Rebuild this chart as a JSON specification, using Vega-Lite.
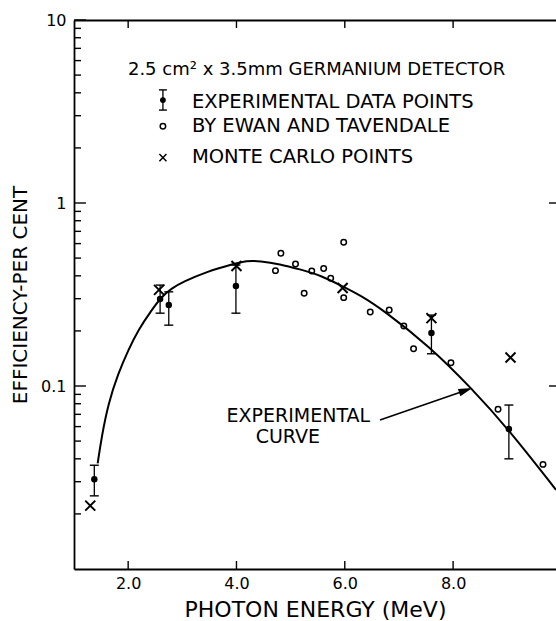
{
  "$schema": "https://vega.github.io/schema/vega-lite/v6.json",
  "width": 482,
  "height": 549,
  "autosize": {"type": "none"},
  "padding": {"left": 74, "top": 20, "right": 0, "bottom": 52},
  "background": "white",
  "config": {
    "view": {"stroke": null},
    "font": "DejaVu Sans",
    "axis": {
      "grid": false,
      "ticks": false,
      "tickSize": 0,
      "domainColor": "black",
      "domainWidth": 1.8,
      "labelColor": "black",
      "titleColor": "black",
      "labelFont": "DejaVu Sans",
      "titleFont": "DejaVu Sans",
      "titleFontWeight": "normal"
    },
    "tick": {"color": "black", "opacity": 1, "thickness": 1.4},
    "rule": {"color": "black", "strokeWidth": 1.4}
  },
  "datasets": {
    "curve": [
      {"e": 1.437, "eff": 0.0378}, {"e": 1.511, "eff": 0.0528}, {"e": 1.633, "eff": 0.0804},
      {"e": 1.817, "eff": 0.1173}, {"e": 2.002, "eff": 0.1573}, {"e": 2.186, "eff": 0.2023},
      {"e": 2.434, "eff": 0.2601}, {"e": 2.618, "eff": 0.3076}, {"e": 2.803, "eff": 0.342},
      {"e": 3.017, "eff": 0.3715}, {"e": 3.448, "eff": 0.4214}, {"e": 3.939, "eff": 0.464},
      {"e": 4.186, "eff": 0.484}, {"e": 4.432, "eff": 0.482}, {"e": 4.8, "eff": 0.464},
      {"e": 5.17, "eff": 0.434}, {"e": 5.54, "eff": 0.404}, {"e": 5.97, "eff": 0.349},
      {"e": 6.28, "eff": 0.314}, {"e": 6.71, "eff": 0.26}, {"e": 7.57, "eff": 0.164},
      {"e": 8.34, "eff": 0.0971}, {"e": 9.02, "eff": 0.0582}, {"e": 9.9, "eff": 0.0271}
    ],
    "measured": [
      {"e": 1.375, "eff": 0.0309, "lo": 0.0251, "hi": 0.0369},
      {"e": 2.59, "eff": 0.299, "lo": 0.25, "hi": 0.356},
      {"e": 2.75, "eff": 0.277, "lo": 0.215, "hi": 0.327},
      {"e": 3.99, "eff": 0.352, "lo": 0.25, "hi": 0.458},
      {"e": 7.6, "eff": 0.195, "lo": 0.15, "hi": 0.244},
      {"e": 9.03, "eff": 0.0582, "lo": 0.04, "hi": 0.0787}
    ],
    "ewan": [
      {"e": 4.72, "eff": 0.427}, {"e": 4.82, "eff": 0.531}, {"e": 5.09, "eff": 0.464},
      {"e": 5.25, "eff": 0.321}, {"e": 5.39, "eff": 0.425}, {"e": 5.61, "eff": 0.438},
      {"e": 5.74, "eff": 0.388}, {"e": 5.98, "eff": 0.61}, {"e": 5.98, "eff": 0.304},
      {"e": 6.47, "eff": 0.254}, {"e": 6.82, "eff": 0.26}, {"e": 7.09, "eff": 0.213},
      {"e": 7.27, "eff": 0.16}, {"e": 7.96, "eff": 0.134}, {"e": 8.83, "eff": 0.0746},
      {"e": 9.66, "eff": 0.0373}
    ],
    "monteCarlo": [
      {"e": 1.3, "eff": 0.0222}, {"e": 2.57, "eff": 0.335}, {"e": 4.0, "eff": 0.453},
      {"e": 5.96, "eff": 0.343}, {"e": 7.6, "eff": 0.235}, {"e": 9.06, "eff": 0.143}
    ],
    "energyTicks": [
      {"energy": 2, "base": 0.01, "tip": 0.01106}, {"energy": 4, "base": 0.01, "tip": 0.01106},
      {"energy": 6, "base": 0.01, "tip": 0.01106}, {"energy": 8, "base": 0.01, "tip": 0.01106},
      {"energy": 2, "base": 10, "tip": 9.045}, {"energy": 4, "base": 10, "tip": 9.045},
      {"energy": 6, "base": 10, "tip": 9.045}, {"energy": 8, "base": 10, "tip": 9.045}
    ],
    "levelTicks": [
      {"level": 0.1, "base": 1, "tip": 1.221}, {"level": 1, "base": 1, "tip": 1.221}, {"level": 10, "base": 1, "tip": 1.221},
      {"level": 0.1, "base": 9.9, "tip": 9.771}, {"level": 1, "base": 9.9, "tip": 9.771},
      {"level": 0.02, "base": 1, "tip": 1.129}, {"level": 0.03, "base": 1, "tip": 1.129}, {"level": 0.04, "base": 1, "tip": 1.129},
      {"level": 0.05, "base": 1, "tip": 1.129}, {"level": 0.06, "base": 1, "tip": 1.129}, {"level": 0.07, "base": 1, "tip": 1.129},
      {"level": 0.08, "base": 1, "tip": 1.129}, {"level": 0.09, "base": 1, "tip": 1.129},
      {"level": 0.2, "base": 1, "tip": 1.129}, {"level": 0.3, "base": 1, "tip": 1.129}, {"level": 0.4, "base": 1, "tip": 1.129},
      {"level": 0.5, "base": 1, "tip": 1.129}, {"level": 0.6, "base": 1, "tip": 1.129}, {"level": 0.7, "base": 1, "tip": 1.129},
      {"level": 0.8, "base": 1, "tip": 1.129}, {"level": 0.9, "base": 1, "tip": 1.129},
      {"level": 2, "base": 1, "tip": 1.129}, {"level": 3, "base": 1, "tip": 1.129}, {"level": 4, "base": 1, "tip": 1.129},
      {"level": 5, "base": 1, "tip": 1.129}, {"level": 6, "base": 1, "tip": 1.129}, {"level": 7, "base": 1, "tip": 1.129},
      {"level": 8, "base": 1, "tip": 1.129}, {"level": 9, "base": 1, "tip": 1.129}
    ]
  },
  "layer": [
    {
      "data": {"name": "curve"},
      "mark": {"type": "line", "interpolate": "basis", "color": "black", "strokeWidth": 2},
      "encoding": {
        "x": {
          "field": "e", "type": "quantitative",
          "scale": {"type": "linear", "domain": [1, 9.9], "nice": false, "zero": false},
          "axis": {
            "orient": "bottom", "values": [2, 4, 6, 8], "format": ".1f",
            "labelFontSize": 16, "labelPadding": 6,
            "title": "PHOTON ENERGY (MeV)", "titleFontSize": 22, "titlePadding": 8
          }
        },
        "y": {
          "field": "eff", "type": "quantitative",
          "scale": {"type": "log", "domain": [0.01, 10], "nice": false},
          "axis": {
            "orient": "left", "values": [0.1, 1, 10], "format": "~g",
            "labelFontSize": 16, "labelPadding": 8,
            "title": "EFFICIENCY-PER CENT", "titleFontSize": 20, "titlePadding": 10
          }
        }
      }
    },
    {
      "data": {"name": "ewan"},
      "mark": {"type": "point", "shape": "circle", "filled": false, "color": "black", "opacity": 1, "strokeWidth": 1.5, "size": 30},
      "encoding": {
        "x": {
          "field": "e", "type": "quantitative",
          "scale": {"type": "linear", "domain": [1, 9.9], "nice": false, "zero": false},
          "axis": {"orient": "top", "labels": false, "title": null}
        },
        "y": {
          "field": "eff", "type": "quantitative",
          "scale": {"type": "log", "domain": [0.01, 10], "nice": false},
          "axis": null
        }
      }
    },
    {
      "data": {"name": "energyTicks"},
      "mark": {"type": "rule", "color": "black", "strokeWidth": 1.4},
      "encoding": {
        "x": {"field": "energy", "type": "quantitative", "scale": {"type": "linear", "domain": [1, 9.9], "nice": false, "zero": false}, "axis": null},
        "y": {"field": "base", "type": "quantitative", "scale": {"type": "log", "domain": [0.01, 10], "nice": false}, "axis": null},
        "y2": {"field": "tip"}
      }
    },
    {
      "data": {"name": "levelTicks"},
      "mark": {"type": "rule", "color": "black", "strokeWidth": 1.4},
      "encoding": {
        "x": {"field": "base", "type": "quantitative", "scale": {"type": "linear", "domain": [1, 9.9], "nice": false, "zero": false}, "axis": null},
        "x2": {"field": "tip"},
        "y": {"field": "level", "type": "quantitative", "scale": {"type": "log", "domain": [0.01, 10], "nice": false}, "axis": null}
      }
    },
    {
      "data": {"name": "monteCarlo"},
      "mark": {"type": "point", "shape": "M-1,-1L1,1M-1,1L1,-1", "filled": false, "color": "black", "opacity": 1, "strokeWidth": 2, "size": 100},
      "encoding": {
        "x": {"field": "e", "type": "quantitative", "scale": {"type": "linear", "domain": [1, 9.9], "nice": false, "zero": false}, "axis": null},
        "y": {"field": "eff", "type": "quantitative", "scale": {"type": "log", "domain": [0.01, 10], "nice": false}, "axis": null}
      }
    },
    {
      "data": {"name": "measured"},
      "mark": {"type": "rule", "strokeWidth": 1.3},
      "encoding": {
        "x": {"field": "e", "type": "quantitative", "scale": {"type": "linear", "domain": [1, 9.9], "nice": false, "zero": false}, "axis": null},
        "y": {"field": "lo", "type": "quantitative", "scale": {"type": "log", "domain": [0.01, 10], "nice": false}, "axis": null},
        "y2": {"field": "hi"}
      }
    },
    {
      "data": {"name": "measured"},
      "mark": {"type": "tick", "orient": "horizontal", "size": 9},
      "encoding": {
        "x": {"field": "e", "type": "quantitative", "scale": {"type": "linear", "domain": [1, 9.9], "nice": false, "zero": false}, "axis": null},
        "y": {"field": "lo", "type": "quantitative", "scale": {"type": "log", "domain": [0.01, 10], "nice": false}, "axis": null}
      }
    },
    {
      "data": {"name": "measured"},
      "mark": {"type": "tick", "orient": "horizontal", "size": 9},
      "encoding": {
        "x": {"field": "e", "type": "quantitative", "scale": {"type": "linear", "domain": [1, 9.9], "nice": false, "zero": false}, "axis": null},
        "y": {"field": "hi", "type": "quantitative", "scale": {"type": "log", "domain": [0.01, 10], "nice": false}, "axis": null}
      }
    },
    {
      "data": {"name": "measured"},
      "mark": {"type": "point", "shape": "circle", "filled": true, "color": "black", "opacity": 1, "size": 42},
      "encoding": {
        "x": {"field": "e", "type": "quantitative", "scale": {"type": "linear", "domain": [1, 9.9], "nice": false, "zero": false}, "axis": null},
        "y": {"field": "eff", "type": "quantitative", "scale": {"type": "log", "domain": [0.01, 10], "nice": false}, "axis": null}
      }
    },
    {
      "data": {"values": [{}]},
      "mark": {"type": "text", "align": "left", "baseline": "middle", "fontSize": 18, "color": "black",
               "text": "2.5 cm² x 3.5mm  GERMANIUM DETECTOR"},
      "encoding": {
        "x": {"datum": 1.996, "type": "quantitative", "scale": {"type": "linear", "domain": [1, 9.9], "nice": false, "zero": false}, "axis": null},
        "y": {"datum": 5.33, "type": "quantitative", "scale": {"type": "log", "domain": [0.01, 10], "nice": false}, "axis": null}
      }
    },
    {
      "data": {"values": [{}]},
      "mark": {"type": "text", "align": "left", "baseline": "middle", "fontSize": 19.5, "color": "black",
               "text": "EXPERIMENTAL DATA POINTS"},
      "encoding": {
        "x": {"datum": 3.177, "type": "quantitative", "scale": {"type": "linear", "domain": [1, 9.9], "nice": false, "zero": false}, "axis": null},
        "y": {"datum": 3.56, "type": "quantitative", "scale": {"type": "log", "domain": [0.01, 10], "nice": false}, "axis": null}
      }
    },
    {
      "data": {"values": [{}]},
      "mark": {"type": "text", "align": "left", "baseline": "middle", "fontSize": 19.5, "color": "black",
               "text": "BY EWAN AND TAVENDALE"},
      "encoding": {
        "x": {"datum": 3.177, "type": "quantitative", "scale": {"type": "linear", "domain": [1, 9.9], "nice": false, "zero": false}, "axis": null},
        "y": {"datum": 2.63, "type": "quantitative", "scale": {"type": "log", "domain": [0.01, 10], "nice": false}, "axis": null}
      }
    },
    {
      "data": {"values": [{}]},
      "mark": {"type": "text", "align": "left", "baseline": "middle", "fontSize": 19.5, "color": "black",
               "text": "MONTE CARLO POINTS"},
      "encoding": {
        "x": {"datum": 3.177, "type": "quantitative", "scale": {"type": "linear", "domain": [1, 9.9], "nice": false, "zero": false}, "axis": null},
        "y": {"datum": 1.78, "type": "quantitative", "scale": {"type": "log", "domain": [0.01, 10], "nice": false}, "axis": null}
      }
    },
    {
      "data": {"values": [{}]},
      "mark": {"type": "rule", "strokeWidth": 1.3},
      "encoding": {
        "x": {"datum": 2.642, "type": "quantitative", "scale": {"type": "linear", "domain": [1, 9.9], "nice": false, "zero": false}, "axis": null},
        "y": {"datum": 3.22, "type": "quantitative", "scale": {"type": "log", "domain": [0.01, 10], "nice": false}, "axis": null},
        "y2": {"datum": 4.15}
      }
    },
    {
      "data": {"values": [{}]},
      "mark": {"type": "tick", "orient": "horizontal", "size": 8},
      "encoding": {
        "x": {"datum": 2.642, "type": "quantitative", "scale": {"type": "linear", "domain": [1, 9.9], "nice": false, "zero": false}, "axis": null},
        "y": {"datum": 3.22, "type": "quantitative", "scale": {"type": "log", "domain": [0.01, 10], "nice": false}, "axis": null}
      }
    },
    {
      "data": {"values": [{}]},
      "mark": {"type": "tick", "orient": "horizontal", "size": 8},
      "encoding": {
        "x": {"datum": 2.642, "type": "quantitative", "scale": {"type": "linear", "domain": [1, 9.9], "nice": false, "zero": false}, "axis": null},
        "y": {"datum": 4.15, "type": "quantitative", "scale": {"type": "log", "domain": [0.01, 10], "nice": false}, "axis": null}
      }
    },
    {
      "data": {"values": [{}]},
      "mark": {"type": "point", "shape": "circle", "filled": true, "color": "black", "opacity": 1, "size": 34},
      "encoding": {
        "x": {"datum": 2.642, "type": "quantitative", "scale": {"type": "linear", "domain": [1, 9.9], "nice": false, "zero": false}, "axis": null},
        "y": {"datum": 3.65, "type": "quantitative", "scale": {"type": "log", "domain": [0.01, 10], "nice": false}, "axis": null}
      }
    },
    {
      "data": {"values": [{}]},
      "mark": {"type": "point", "shape": "circle", "filled": false, "color": "black", "opacity": 1, "strokeWidth": 1.5, "size": 30},
      "encoding": {
        "x": {"datum": 2.642, "type": "quantitative", "scale": {"type": "linear", "domain": [1, 9.9], "nice": false, "zero": false}, "axis": null},
        "y": {"datum": 2.63, "type": "quantitative", "scale": {"type": "log", "domain": [0.01, 10], "nice": false}, "axis": null}
      }
    },
    {
      "data": {"values": [{}]},
      "mark": {"type": "point", "shape": "M-1,-1L1,1M-1,1L1,-1", "filled": false, "color": "black", "opacity": 1, "strokeWidth": 1.5, "size": 50},
      "encoding": {
        "x": {"datum": 2.642, "type": "quantitative", "scale": {"type": "linear", "domain": [1, 9.9], "nice": false, "zero": false}, "axis": null},
        "y": {"datum": 1.77, "type": "quantitative", "scale": {"type": "log", "domain": [0.01, 10], "nice": false}, "axis": null}
      }
    },
    {
      "data": {"values": [{}]},
      "mark": {"type": "text", "align": "center", "baseline": "middle", "fontSize": 19, "color": "black", "text": "EXPERIMENTAL"},
      "encoding": {
        "x": {"datum": 5.142, "type": "quantitative", "scale": {"type": "linear", "domain": [1, 9.9], "nice": false, "zero": false}, "axis": null},
        "y": {"datum": 0.0686, "type": "quantitative", "scale": {"type": "log", "domain": [0.01, 10], "nice": false}, "axis": null}
      }
    },
    {
      "data": {"values": [{}]},
      "mark": {"type": "text", "align": "center", "baseline": "middle", "fontSize": 19, "color": "black", "text": "CURVE"},
      "encoding": {
        "x": {"datum": 4.948, "type": "quantitative", "scale": {"type": "linear", "domain": [1, 9.9], "nice": false, "zero": false}, "axis": null},
        "y": {"datum": 0.0526, "type": "quantitative", "scale": {"type": "log", "domain": [0.01, 10], "nice": false}, "axis": null}
      }
    },
    {
      "data": {"values": [{}]},
      "mark": {"type": "rule", "strokeWidth": 1.6},
      "encoding": {
        "x": {"datum": 6.65, "type": "quantitative", "scale": {"type": "linear", "domain": [1, 9.9], "nice": false, "zero": false}, "axis": null},
        "y": {"datum": 0.0652, "type": "quantitative", "scale": {"type": "log", "domain": [0.01, 10], "nice": false}, "axis": null},
        "x2": {"datum": 8.2},
        "y2": {"datum": 0.0938}
      }
    },
    {
      "data": {"values": [{}]},
      "mark": {"type": "point", "shape": "M1,0L-1,-0.55L-1,0.55Z", "filled": true, "color": "black", "opacity": 1, "size": 196, "angle": -19},
      "encoding": {
        "x": {"datum": 8.234, "type": "quantitative", "scale": {"type": "linear", "domain": [1, 9.9], "nice": false, "zero": false}, "axis": null},
        "y": {"datum": 0.0947, "type": "quantitative", "scale": {"type": "log", "domain": [0.01, 10], "nice": false}, "axis": null}
      }
    }
  ],
  "resolve": {"axis": {"x": "independent", "y": "independent"}}
}
